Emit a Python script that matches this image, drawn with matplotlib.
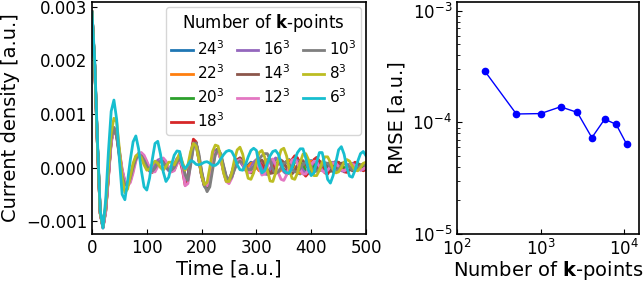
import numpy as np
import matplotlib
matplotlib.use("Agg")
import matplotlib.pyplot as plt
from matplotlib.ticker import NullLocator

# current density, in units of 1e-4 a.u., sampled every 5 a.u. of time (0 ... 500)
j_24 = [29, 19, 4, -8.5, -11.2, -8, -1.5, 5, 7.3, 6.0,
        2.5, -1.0, -2.8, -3.2, -2.0, 0.0, 1.8, 2.5, 2.6, 1.8,
        0.5, -0.5, -0.8, 0.0, 1.0, 1.5, 1.2, 0.5, -0.3, -0.5,
        0.3, 1.5, 2.0, 0.5, -2.0, -1.5, 2.0, 4.8, 4.5, 1.5,
        -1.5, -3.5, -4.0, -2.0, 1.0, 3.2, 3.5, 2.0, -0.5, -2.2,
        -2.5, -1.0, 0.8, 1.5, 1.2, 0.5, 0.0, 0.5, 1.0, 0.8,
        0.0, -0.5, 0.0, 1.0, 1.5, 1.2, 0.3, -0.5, -0.8, -0.3,
        0.5, 1.2, 1.5, 1.0, 0.0, -1.0, -1.2, -0.5, 0.5, 1.2,
        1.3, 0.8, 0.0, -0.5, -0.5, 0.0, 0.7, 1.0, 0.8, 0.3,
        -0.2, -0.4, -0.2, 0.3, 0.6, 0.6, 0.3, 0.0, -0.2, 0.0,
        0.3]
j_22 = [29, 19, 4, -8.5, -11.2, -8, -1.6, 5, 7.3, 6.0,
        2.5, -1.0, -2.8, -3.2, -2.0, 0.0, 1.8, 2.5, 2.6, 1.8,
        0.5, -0.5, -0.8, 0.0, 1.0, 1.5, 1.2, 0.5, -0.3, -0.5,
        0.3, 1.5, 2.0, 0.4, -2.1, -1.6, 1.9, 4.7, 4.5, 1.6,
        -1.4, -3.4, -3.9, -2.1, 0.9, 3.1, 3.5, 2.1, -0.4, -2.1,
        -2.5, -1.2, 0.6, 1.5, 1.3, 0.6, -0.1, 0.2, 0.8, 0.9,
        0.2, -0.6, -0.4, 0.6, 1.4, 1.3, 0.5, -0.4, -0.9, -0.5,
        0.4, 1.1, 1.4, 1.0, 0.1, -0.8, -1.1, -0.6, 0.3, 1.0,
        1.2, 0.8, 0.1, -0.4, -0.5, -0.1, 0.5, 0.9, 0.8, 0.3,
        -0.2, -0.4, -0.2, 0.2, 0.5, 0.6, 0.3, 0.0, -0.2, 0.0,
        0.2]
j_20 = [29, 19, 4, -8.5, -11.2, -8, -1.5, 5, 7.4, 6.1,
        2.6, -1.0, -2.9, -3.2, -2.0, 0.1, 1.9, 2.6, 2.5, 1.7,
        0.4, -0.6, -0.7, 0.2, 1.1, 1.4, 1.0, 0.2, -0.5, -0.6,
        0.2, 1.4, 2.0, 0.4, -2.2, -1.8, 1.6, 4.5, 4.6, 1.8,
        -1.2, -3.2, -3.8, -2.2, 0.8, 3.0, 3.4, 2.1, -0.2, -2.0,
        -2.6, -1.5, 0.2, 1.2, 1.4, 0.8, -0.2, -0.8, -0.5, 0.5,
        1.2, 1.0, 0.2, -0.8, -1.2, -0.5, 0.8, 1.6, 1.5, 0.6,
        -0.5, -1.2, -1.0, 0.0, 1.0, 1.5, 1.2, 0.3, -0.6, -1.0,
        -0.6, 0.3, 1.0, 1.2, 0.6, -0.3, -0.8, -0.7, 0.0, 0.8,
        1.0, 0.6, -0.1, -0.6, -0.5, 0.0, 0.6, 0.8, 0.4, -0.1,
        -0.3]
j_18 = [29, 19, 4, -8.6, -11.2, -8.2, -1.8, 4.8, 7.3, 6.2,
        2.8, -0.8, -2.8, -3.3, -2.2, -0.2, 1.7, 2.6, 2.7, 2.0,
        0.7, -0.4, -0.9, -0.3, 0.8, 1.6, 1.5, 0.6, -0.4, -0.8,
        -0.2, 1.0, 1.5, -0.5, -3.3, -2.2, 2.2, 5.3, 4.8, 1.5,
        -1.5, -3.3, -3.8, -2.0, 0.8, 2.8, 3.0, 1.6, -0.7, -2.5,
        -2.8, -1.5, 0.3, 1.5, 1.8, 1.0, -0.3, -1.0, -0.8, 0.2,
        1.0, 1.2, 0.5, -0.5, -1.0, -0.8, 0.0, 0.8, 1.0, 0.5,
        -0.3, -0.6, 0.2, 1.5, 2.2, 1.8, 0.5, -1.0, -1.6, -1.0,
        0.3, 1.5, 1.9, 1.2, 0.0, -1.0, -1.2, -0.4, 0.6, 1.2,
        0.9, 0.0, -0.8, -0.9, -0.2, 0.6, 1.0, 0.6, -0.2, -0.6,
        -0.4]
j_16 = [29, 19, 4, -8.5, -11.1, -7.8, -1.2, 5.2, 7.5, 5.8,
        2.2, -1.3, -3.0, -3.0, -1.6, 0.4, 2.0, 2.6, 2.3, 1.3,
        0.1, -0.7, -0.5, 0.5, 1.4, 1.6, 0.9, 0.0, -0.6, -0.4,
        0.6, 1.7, 2.0, 0.2, -2.4, -1.6, 1.8, 4.6, 4.3, 1.4,
        -1.6, -3.4, -3.6, -1.6, 1.2, 3.2, 3.2, 1.6, -0.6, -2.0,
        -2.2, -1.0, 0.5, 1.3, 1.2, 0.4, -0.5, -0.6, 0.0, 1.0,
        1.5, 1.0, -0.2, -1.2, -1.3, -0.3, 1.0, 1.8, 1.5, 0.3,
        -0.8, -1.2, -0.6, 0.5, 1.3, 1.3, 0.5, -0.5, -1.0, -0.6,
        0.3, 1.0, 1.0, 0.3, -0.5, -0.8, -0.3, 0.5, 1.0, 0.8,
        0.0, -0.6, -0.7, -0.1, 0.6, 0.8, 0.4, -0.2, -0.5, -0.3,
        0.2]
j_14 = [29, 19, 4.2, -8.3, -11.0, -7.5, -1.0, 5.0, 7.2, 6.3,
        3.0, -0.5, -2.6, -3.4, -2.5, -0.5, 1.5, 2.4, 2.6, 2.0,
        0.9, -0.2, -0.8, -0.5, 0.5, 1.3, 1.4, 0.8, 0.0, -0.7,
        -0.5, 0.8, 1.8, 0.8, -1.6, -2.0, 1.0, 4.0, 4.6, 2.2,
        -0.8, -3.0, -4.0, -2.6, 0.2, 2.6, 3.4, 2.4, 0.2, -1.8,
        -2.6, -1.8, -0.2, 1.2, 1.8, 1.4, 0.4, -0.6, -1.0, -0.6,
        0.4, 1.2, 1.4, 0.7, -0.4, -1.1, -1.0, -0.1, 0.9, 1.4,
        1.0, 0.0, -0.9, -1.2, -0.6, 0.4, 1.2, 1.3, 0.6, -0.3,
        -0.9, -0.9, -0.2, 0.6, 1.0, 0.8, 0.1, -0.5, -0.8, -0.5,
        0.2, 0.8, 0.9, 0.4, -0.2, -0.6, -0.5, 0.0, 0.5, 0.6,
        0.2]
j_12 = [29, 19, 4, -8.6, -11.3, -8.3, -2.0, 4.5, 7.2, 6.4,
        3.2, -0.3, -2.5, -3.4, -2.8, -1.0, 1.2, 2.4, 2.8, 2.3,
        1.2, 0.0, -0.8, -0.8, 0.2, 1.4, 1.8, 1.2, 0.0, -0.8,
        -0.6, 0.6, 1.6, 0.0, -3.4, -3.0, 0.8, 4.2, 4.4, 1.8,
        -1.2, -3.0, -3.4, -1.8, 0.8, 2.8, 3.0, 1.5, -0.8, -2.6,
        -3.0, -2.0, -0.2, 1.2, 1.5, 0.8, -0.3, -1.0, -0.8, 0.3,
        0.8, 0.0, -1.4, -1.2, 0.2, 1.4, 1.6, 0.6, -1.0, -2.2,
        -2.4, -1.4, 0.2, 1.4, 1.6, 0.8, -0.4, -1.2, -1.2, -0.4,
        0.6, 1.2, 1.0, 0.2, -0.6, -0.9, -0.5, 0.2, 0.8, 0.8,
        0.2, -0.4, -0.6, -0.3, 0.3, 0.6, 0.4, -0.1, -0.4, -0.3,
        0.1]
j_10 = [29, 19, 4.3, -8.2, -10.9, -7.3, -0.8, 5.3, 7.4, 5.8,
        2.0, -1.5, -3.2, -3.4, -2.0, 0.0, 1.6, 2.3, 2.2, 1.4,
        0.3, -0.5, -0.7, -0.1, 0.8, 1.2, 0.9, 0.2, -0.4, -0.5,
        0.0, 1.0, 1.6, 0.8, -1.4, -2.4, 0.4, 3.8, 4.6, 2.6,
        -0.6, -3.2, -4.5, -3.6, -0.5, 2.4, 3.4, 2.6, 0.4, -1.6,
        -2.4, -1.8, -0.4, 0.8, 1.2, 0.9, 0.2, -0.4, -0.4, 0.2,
        1.0, 1.6, 2.2, 2.6, 2.6, 1.4, -0.4, -1.1, -0.8, 0.0,
        0.8, 1.0, 0.6, -0.2, -0.8, -0.8, -0.2, 0.6, 1.0, 0.8,
        0.1, -0.5, -0.7, -0.3, 0.4, 0.9, 0.8, 0.2, -0.4, -0.6,
        -0.3, 0.3, 0.7, 0.6, 0.1, -0.4, -0.5, -0.1, 0.4, 0.6,
        0.3]
j_8 = [29, 19, 4, -8.5, -11.0, -7, 0, 6.5, 9.2, 8.5,
       3.5, -2.0, -4.7, -4.0, -1.5, 0.8, 2.2, 2.5, 1.8, 0.5,
       -0.5, -0.3, 0.6, 1.2, 0.8, 0.0, -0.5, 0.2, 1.0, 1.0,
       0.5, 1.5, 2.7, 1.0, -0.5, 0.5, 3.0, 4.5, 4.0, 1.5,
       -1.5, -3.2, -2.8, 0.0, 3.0, 4.2, 4.0, 2.0, -1.0, -2.6,
       -2.6, -1.0, 1.5, 3.3, 3.8, 2.5, 0.0, -2.0, -2.2, -1.0,
       1.0, 2.8, 3.2, 2.0, -0.5, -2.5, -2.6, -1.0, 1.5, 3.3,
       3.6, 2.2, -0.3, -2.0, -2.2, -1.0, 1.0, 2.5, 2.6, 1.5,
       -0.3, -1.5, -1.5, -0.5, 1.0, 2.0, 2.0, 1.0, -0.3, -1.0,
       -0.8, 0.0, 1.0, 1.5, 1.2, 0.3, -0.5, -0.6, 0.0, 0.8,
       1.0]
j_6 = [29, 20, 5, -8, -11.3, -6, 3, 10.5, 12.6, 9,
       1.5, -5, -6, -2.5, 1.5, 4.8, 5.9, 3.5, -0.5, -3.6,
       -4.2, -2, 1.5, 4.5, 4.9, 2.5, -0.8, -2.6, -1.8, 0.5,
       2.3, 3.1, 3.0, 0.5, -0.2, 0.5, 1.3, 1.1, 0.6, 0.5,
       0.7, 1.0, 1.1, 0.8, 0.4, 0.4, 0.8, 1.6, 2.4, 3.0,
       3.2, 3.0, 2.0, 0.5, -0.4, -0.5, 0.5, 2.0, 3.2, 3.6,
       3.2, 0.5, -1.0, -0.6, 0.8, 2.2, 3.0, 3.2, 2.5, 0.8,
       -0.5, -1.0, -1.0, 0.0, 1.5, 2.8, 3.5, 3.5, 1.8, -0.5,
       -1.5, -1.0, 1.0, 2.8, 2.8, 0.5, -2.2, -2.9, -1.5, 1.0,
       3.3, 3.9, 2.5, 0.0, -1.6, -1.8, -0.5, 1.2, 2.6, 3.0,
       2.2]

series = [j_24, j_22, j_20, j_18, j_16, j_14, j_12, j_10, j_8, j_6]
labels = ["$24^3$", "$22^3$", "$20^3$", "$18^3$", "$16^3$",
          "$14^3$", "$12^3$", "$10^3$", "$8^3$", "$6^3$"]
scale = 1e-4

# RMSE against the 24^3 reference
n_kpoints = [6**3, 8**3, 10**3, 12**3, 14**3, 16**3, 18**3, 20**3, 22**3]
rmse = [2.87e-4, 1.19e-4, 1.2e-4, 1.38e-4, 1.23e-4, 7.3e-5, 1.07e-4, 9.6e-5, 6.4e-5]

fig = plt.figure(figsize=(6.44, 2.83), dpi=100)
bottom = 1 - 234 / 283
height = 232 / 283
ax1 = fig.add_axes([92 / 644, bottom, 274 / 644, height])
ax2 = fig.add_axes([457 / 644, bottom, 182 / 644, height])

for vals, lab in zip(series, labels):
    t = 5 * np.arange(len(vals))
    ax1.plot(t, np.array(vals) * scale, lw=2, label=lab)

ax1.set_xlim(0, 500)
ax1.set_ylim(-0.00124, 0.00309)
ax1.set_xlabel("Time [a.u.]", fontsize=14, labelpad=2)
ax1.set_ylabel("Current density [a.u.]", fontsize=14)
ax1.tick_params(direction="in", labelsize=12)
ax1.legend(title=r"Number of $\mathbf{k}$-points", ncol=3, loc="upper right",
           fontsize=11, title_fontsize=12, handlelength=1.4, handletextpad=0.3,
           columnspacing=0.8, labelspacing=0.35, borderaxespad=0.3,
           borderpad=0.35)

ax2.plot(n_kpoints, rmse, "o-", color="blue", lw=1, ms=4.5)
ax2.set_xscale("log")
ax2.set_yscale("log")
ax2.set_xlim(100, 1.5e4)
ax2.set_ylim(1e-5, 1.2e-3)
ax2.xaxis.set_minor_locator(NullLocator())
ax2.set_xlabel(r"Number of $\mathbf{k}$-points", fontsize=14, labelpad=0)
ax2.set_ylabel("RMSE [a.u.]", fontsize=14)
ax2.tick_params(which="both", direction="in", labelsize=12)

for ax in (ax1, ax2):
    for sp in ax.spines.values():
        sp.set_linewidth(1.2)

fig.savefig("out.png", dpi=100)
